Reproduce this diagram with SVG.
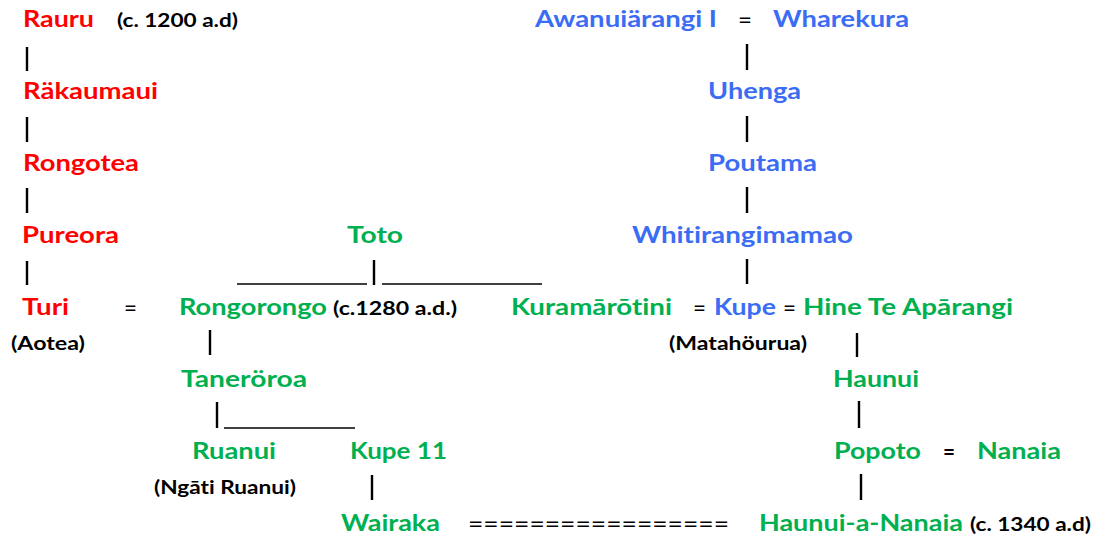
<svg xmlns="http://www.w3.org/2000/svg" width="1097" height="537" viewBox="0 0 1097 537">
  <style>
    text { font-family: Lato, "Open Sans", "Liberation Sans", sans-serif; font-variant-ligatures: none; font-feature-settings: "liga" 0, "clig" 0; }
    .n { font-size: 23px; font-weight: 700; }
    .red { fill: #ff0000; }
    .blue { fill: #3b6cf4; }
    .green { fill: #00b050; }
    .note { font-size: 18px; font-weight: 700; fill: #000; }
    .eq { font-size: 23px; font-weight: 400; fill: #000; }
    .eqb { font-size: 23px; font-weight: 700; fill: #000; }
    .bar { stroke: #000; stroke-width: 2.4; fill: none; }
    .rule { stroke: #000; stroke-width: 1.6; fill: none; }
  </style>

  <rect width="1097" height="537" fill="#ffffff"/>

  <!-- descent lines, sibling rules and marriage signs -->
  <g id="connectors">
    <!-- Rauru line -->
    <line class="bar" x1="27" y1="47" x2="27" y2="71"/>
    <line class="bar" x1="27" y1="117" x2="27" y2="142"/>
    <line class="bar" x1="27" y1="188" x2="27" y2="213"/>
    <line class="bar" x1="27" y1="261" x2="27" y2="285"/>
    <!-- Awanuiärangi line -->
    <line class="bar" x1="747" y1="44" x2="747" y2="70"/>
    <line class="bar" x1="747" y1="116" x2="747" y2="142"/>
    <line class="bar" x1="747" y1="187" x2="747" y2="213"/>
    <line class="bar" x1="747" y1="259" x2="747" y2="284"/>
    <!-- Toto to his children -->
    <line class="bar" x1="374" y1="260" x2="374" y2="285"/>
    <line class="rule" x1="237" y1="284" x2="367" y2="284"/>
    <line class="rule" x1="382" y1="284" x2="542" y2="284"/>
    <!-- Rongorongo to Taneröroa -->
    <line class="bar" x1="210" y1="330" x2="210" y2="355"/>
    <!-- Taneröroa to Ruanui and Kupe 11 -->
    <line class="bar" x1="217" y1="402" x2="217" y2="428"/>
    <line class="rule" x1="224" y1="428" x2="355" y2="428"/>
    <!-- Kupe 11 to Wairaka -->
    <line class="bar" x1="372" y1="475" x2="372" y2="500"/>
    <!-- Hine Te Apārangi line -->
    <line class="bar" x1="857" y1="333" x2="857" y2="357"/>
    <line class="bar" x1="859" y1="401" x2="859" y2="428"/>
    <line class="bar" x1="861" y1="474" x2="861" y2="500"/>

    <!-- marriages -->
    <text class="eq" x="738" y="28" textLength="14" lengthAdjust="spacingAndGlyphs">=</text>
    <text class="eq" x="124" y="316" textLength="13" lengthAdjust="spacingAndGlyphs">=</text>
    <text class="eq" x="693" y="316" textLength="13" lengthAdjust="spacingAndGlyphs">=</text>
    <text class="eq" x="783" y="316" textLength="13" lengthAdjust="spacingAndGlyphs">=</text>
    <text class="eqb" x="943" y="460" textLength="12" lengthAdjust="spacingAndGlyphs">=</text>
    <text class="eq" x="468" y="532" textLength="261" lengthAdjust="spacingAndGlyphs">=================</text>
  </g>

  <!-- Rauru line (red) -->
  <g id="rauru">
    <text class="n red" x="23" y="27" textLength="71" lengthAdjust="spacingAndGlyphs">Rauru</text>
    <text class="note" x="117" y="27" textLength="121" lengthAdjust="spacingAndGlyphs">(c. 1200 a.d)</text>
  </g>
  <g id="rakaumaui">
    <text class="n red" x="23" y="99" textLength="135" lengthAdjust="spacingAndGlyphs">Räkaumaui</text>
  </g>
  <g id="rongotea">
    <text class="n red" x="23" y="171" textLength="116" lengthAdjust="spacingAndGlyphs">Rongotea</text>
  </g>
  <g id="pureora">
    <text class="n red" x="22" y="243" textLength="97" lengthAdjust="spacingAndGlyphs">Pureora</text>
  </g>
  <g id="turi">
    <text class="n red" x="22" y="315" textLength="47" lengthAdjust="spacingAndGlyphs">Turi</text>
    <text class="note" x="11" y="350" textLength="74" lengthAdjust="spacingAndGlyphs">(Aotea)</text>
  </g>

  <!-- Awanuiärangi line (blue) -->
  <g id="awanuiarangi">
    <text class="n blue" x="535" y="27" textLength="182" lengthAdjust="spacingAndGlyphs">Awanuiärangi I</text>
  </g>
  <g id="wharekura">
    <text class="n blue" x="773" y="27" textLength="136" lengthAdjust="spacingAndGlyphs">Wharekura</text>
  </g>
  <g id="uhenga">
    <text class="n blue" x="708" y="99" textLength="93" lengthAdjust="spacingAndGlyphs">Uhenga</text>
  </g>
  <g id="poutama">
    <text class="n blue" x="708" y="171" textLength="109" lengthAdjust="spacingAndGlyphs">Poutama</text>
  </g>
  <g id="whitirangimamao">
    <text class="n blue" x="632" y="243" textLength="221" lengthAdjust="spacingAndGlyphs">Whitirangimamao</text>
  </g>
  <g id="kupe">
    <text class="n blue" x="714" y="315" textLength="62" lengthAdjust="spacingAndGlyphs">Kupe</text>
    <text class="note" x="669" y="350" textLength="138" lengthAdjust="spacingAndGlyphs">(Matahöurua)</text>
  </g>

  <!-- Toto line (green) -->
  <g id="toto">
    <text class="n green" x="347" y="243" textLength="56" lengthAdjust="spacingAndGlyphs">Toto</text>
  </g>
  <g id="rongorongo">
    <text class="n green" x="179" y="315" textLength="148" lengthAdjust="spacingAndGlyphs">Rongorongo</text>
    <text class="note" x="333" y="315" textLength="124" lengthAdjust="spacingAndGlyphs">(c.1280 a.d.)</text>
  </g>
  <g id="kuramarotini">
    <text class="n green" x="511" y="315" textLength="161" lengthAdjust="spacingAndGlyphs">Kuramārōtini</text>
  </g>
  <g id="hine-te-aparangi">
    <text class="n green" x="803" y="315" textLength="210" lengthAdjust="spacingAndGlyphs">Hine Te Apārangi</text>
  </g>
  <g id="taneroroa">
    <text class="n green" x="181" y="387" textLength="126" lengthAdjust="spacingAndGlyphs">Taneröroa</text>
  </g>
  <g id="haunui">
    <text class="n green" x="833" y="387" textLength="86" lengthAdjust="spacingAndGlyphs">Haunui</text>
  </g>
  <g id="ruanui">
    <text class="n green" x="192" y="459" textLength="84" lengthAdjust="spacingAndGlyphs">Ruanui</text>
    <text class="note" x="154" y="494" textLength="142" lengthAdjust="spacingAndGlyphs">(Ngāti Ruanui)</text>
  </g>
  <g id="kupe-11">
    <text class="n green" x="350" y="459" textLength="97" lengthAdjust="spacingAndGlyphs">Kupe 11</text>
  </g>
  <g id="popoto">
    <text class="n green" x="834" y="459" textLength="87" lengthAdjust="spacingAndGlyphs">Popoto</text>
  </g>
  <g id="nanaia">
    <text class="n green" x="977" y="459" textLength="84" lengthAdjust="spacingAndGlyphs">Nanaia</text>
  </g>
  <g id="wairaka">
    <text class="n green" x="341" y="531" textLength="99" lengthAdjust="spacingAndGlyphs">Wairaka</text>
  </g>
  <g id="haunui-a-nanaia">
    <text class="n green" x="759" y="531" textLength="204" lengthAdjust="spacingAndGlyphs">Haunui-a-Nanaia</text>
    <text class="note" x="970" y="531" textLength="121" lengthAdjust="spacingAndGlyphs">(c. 1340 a.d)</text>
  </g>
</svg>
